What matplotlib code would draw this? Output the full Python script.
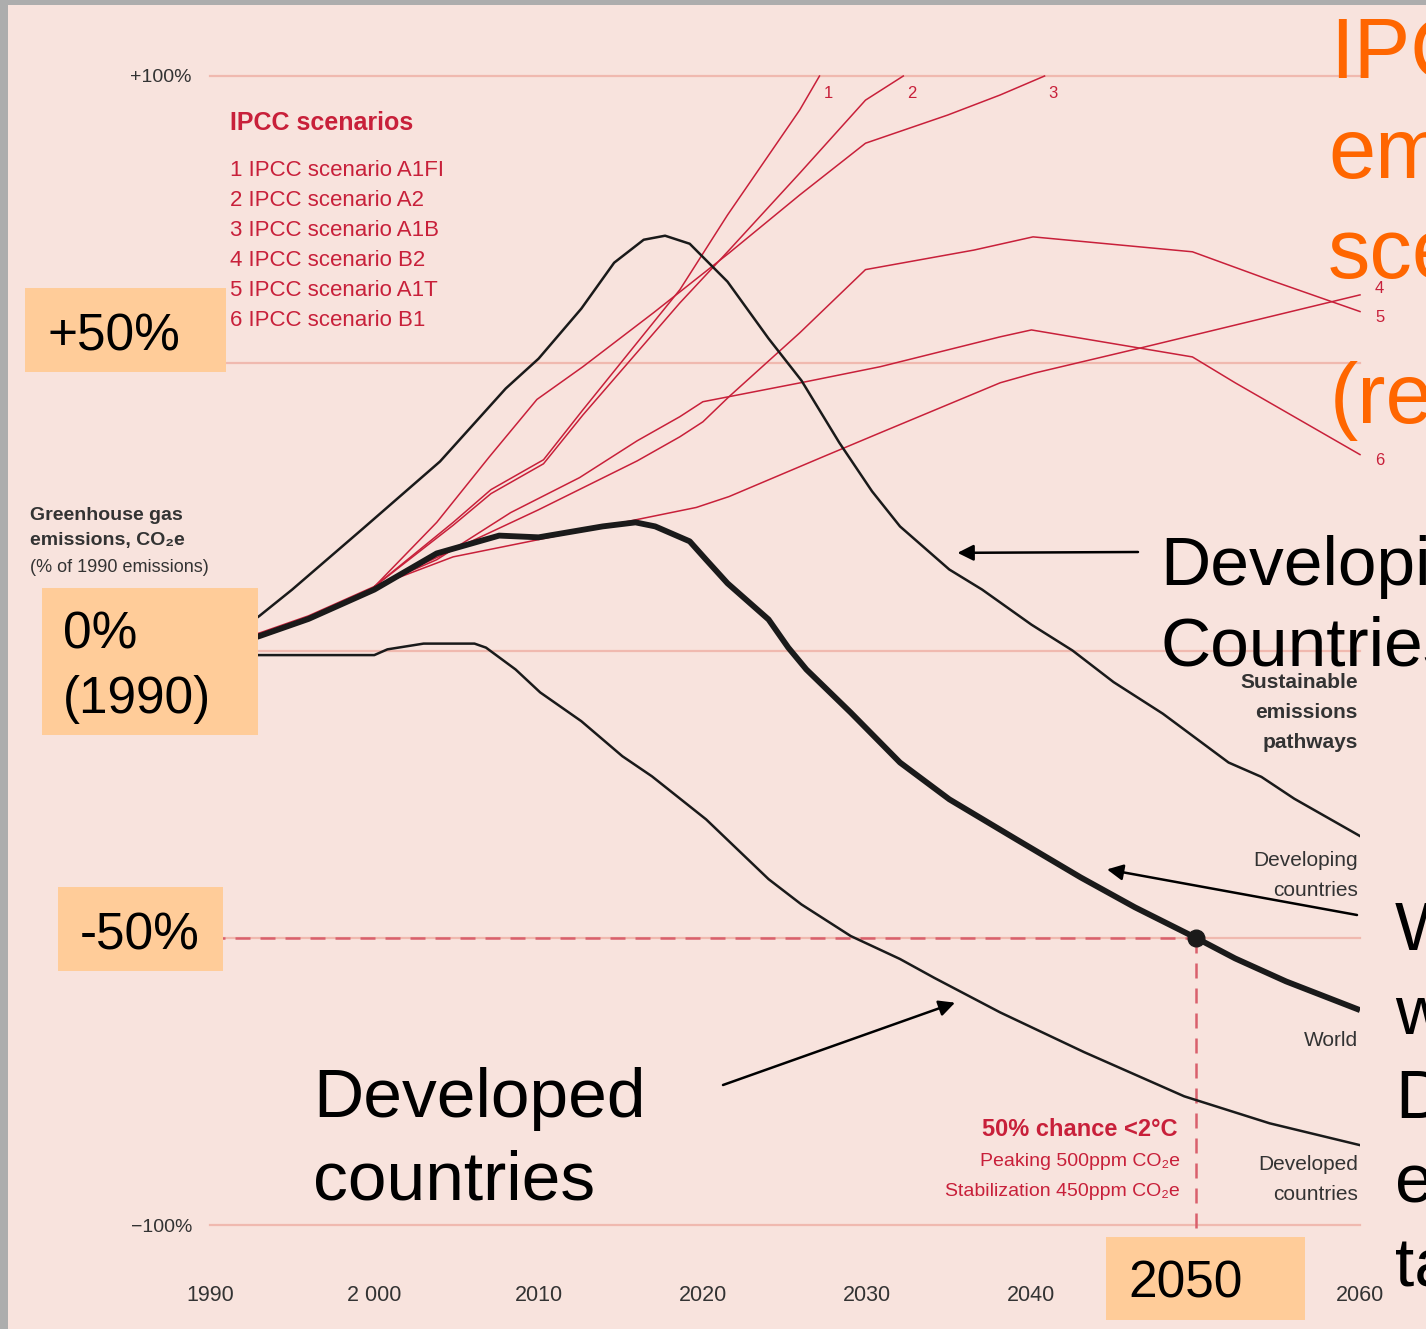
import matplotlib
matplotlib.use("Agg")
import matplotlib.pyplot as plt
from matplotlib.patches import Rectangle
from matplotlib import font_manager

# --- data (% change vs 1990) ---
developing_years = [1990, 1993, 1995, 1999.3, 2004, 2008, 2010, 2012.6, 2014.6, 2016.4, 2017.7,
                    2019.2, 2021.5, 2024, 2026, 2028.3, 2030.3, 2032, 2035, 2037, 2040, 2042.5,
                    2045, 2048, 2052, 2054, 2056, 2060]
developing = [0, 6, 10.6, 21.2, 32.9, 45.6, 50.8, 59.5, 67.5, 71.5, 72.2,
              70.8, 64.2, 54.3, 47.0, 36.2, 27.7, 21.6, 14.1, 10.6, 4.5, 0,
              -5.5, -11, -19.5, -22, -25.8, -32.3]

world_years = [1990, 1993, 1996, 2000, 2003.8, 2007.6, 2010, 2013.9, 2015.9, 2017.1, 2019.2,
               2020.2, 2021.5, 2024, 2025.2, 2026.3, 2029, 2032, 2035, 2039.1, 2043, 2046.3,
               2050, 2052.4, 2055.5, 2060]
world = [0, 2.5, 5.5, 10.6, 16.9, 20.0, 19.7, 21.6, 22.3, 21.6, 19.0,
         15.8, 11.7, 5.4, 0.5, -3.3, -10.8, -19.5, -25.9, -32.9, -39.5, -44.7,
         -50, -53.6, -57.6, -62.6]

developed_years = [1990, 2000, 2000.8, 2003, 2006.1, 2006.8, 2008.6, 2010.1, 2012.6, 2015.1,
                   2016.9, 2020.2, 2024, 2026, 2029, 2032, 2034.1, 2038.1, 2043.2, 2049.3,
                   2054.5, 2060]
developed = [-0.8, -0.8, 0.2, 1.2, 1.2, 0.5, -3.3, -7.3, -12.3, -18.4,
             -21.9, -29.4, -39.8, -44.2, -49.7, -53.7, -57.0, -63.0, -69.9, -77.6,
             -82.3, -86.1]

# shared IPCC history 1990-2000
ipcc_hist_years = [1990, 1993, 1996, 2000]
ipcc_hist = [0.4, 3.0, 6.0, 11.1]

a1fi_years = [2000, 2004.8, 2007.1, 2010.3, 2012.7, 2018.6, 2021.5, 2025.9, 2027.1]
a1fi = [11.1, 22.3, 28, 33.2, 41.9, 62.8, 75.8, 94.1, 100]
a2_years = [2000, 2004.8, 2007.1, 2010.3, 2012.7, 2018.6, 2021.6, 2025.9, 2029.9, 2032.2]
a2 = [11.1, 21.8, 27.3, 32.5, 41, 60.5, 69.7, 83.1, 95.8, 100]
a1b_years = [2000, 2003.8, 2007, 2009.9, 2012.7, 2017, 2021.6, 2025.9, 2029.9, 2034.9, 2038.1, 2040.8]
a1b = [11.1, 22.3, 33.7, 43.7, 49.4, 58.8, 69.2, 79.3, 88.3, 93.2, 96.7, 100]
b2_years = [2000, 2004.8, 2010, 2016, 2019.6, 2021.6, 2027.3, 2030.8, 2038.1, 2040.2, 2046.7, 2060]
b2 = [11.1, 16.3, 19.3, 22.8, 24.9, 26.8, 33.7, 37.9, 46.6, 48.3, 52.7, 61.9]
a1t_years = [2000, 2010, 2016, 2018.6, 2020, 2021.6, 2025.9, 2029.9, 2036.5, 2040.1, 2049.8, 2054.5, 2060]
a1t = [11.1, 24.5, 33, 37.2, 39.8, 44.2, 55.3, 66.3, 69.7, 72.0, 69.4, 64.5, 59.0]
b1_years = [2000, 2003.8, 2008.3, 2012.5, 2016, 2018.6, 2020, 2026.3, 2030.8, 2038.1, 2040, 2049.8, 2052.4, 2060]
b1 = [11.1, 15.8, 24, 30.1, 36.5, 40.7, 43.3, 46.8, 49.4, 54.6, 55.8, 51.1, 46.6, 34.1]

scenario_names = ["IPCC scenario A1FI", "IPCC scenario A2", "IPCC scenario A1B",
                  "IPCC scenario B2", "IPCC scenario A1T", "IPCC scenario B1"]

x_ticks = [1990, 2000, 2010, 2020, 2030, 2040, 2050, 2060]
# the 2050 tick label sits under the slide's "2050" box
x_tick_labels = ["1990", "2 000", "2010", "2020", "2030", "2040", "", "2060"]
grid_levels = [100, 50, 0, -50, -100]
target_year, target_level = 2050, -50

# --- style ---
W, H = 1426, 1329
BG = "#F8E3DD"
RED = "#C8203A"
GRID = "#F0B9AF"
BOX = "#FFCC99"
ORANGE = "#FF6600"
DARK = "#333333"

names = {f.name for f in font_manager.fontManager.ttflist}
NARROW = "Liberation Sans Narrow" if "Liberation Sans Narrow" in names else "Liberation Sans"
NARROW = [NARROW, "DejaVu Sans"]
SANS = ["Liberation Sans", "DejaVu Sans"]

fig = plt.figure(figsize=(W / 100, H / 100), dpi=100, facecolor=BG)
ax = fig.add_axes([210 / W, (H - 1225) / H, 1150 / W, 1149 / H])
ax.set_facecolor(BG)
ax.set_xlim(1990, 2060)
ax.set_ylim(-100, 100)
for s in ax.spines.values():
    s.set_visible(False)

ax.set_xticks(x_ticks)
ax.set_xticklabels(x_tick_labels, family=NARROW, fontsize=15.5, color=DARK)
ax.set_yticks(grid_levels)
ax.set_yticklabels(["+100%", "", "", "", "\u2212100%"], family=NARROW, fontsize=14, color=DARK)
ax.tick_params(axis="x", length=0, pad=43)
ax.tick_params(axis="y", length=0, pad=13)

for lv in grid_levels:
    ax.axhline(lv, color=GRID, lw=1.6, zorder=1, clip_on=False)

# 2050 target guides
ax.plot([1990, target_year], [target_level, target_level], color="#D9606C", lw=1.8,
        dashes=(6, 4), zorder=2)
ax.plot([target_year, target_year], [target_level, -104], color="#D9606C", lw=1.8,
        dashes=(6, 4), zorder=2, clip_on=False)

# IPCC scenarios
ax.plot(ipcc_hist_years, ipcc_hist, color=RED, lw=1.4, zorder=3)
scenarios = [(a1fi_years, a1fi), (a2_years, a2), (a1b_years, a1b),
             (b2_years, b2), (a1t_years, a1t), (b1_years, b1)]
for yrs, vals in scenarios:
    ax.plot(yrs, vals, color=RED, lw=1.1, zorder=3, clip_on=False)

# end labels of scenarios
for i, (yrs, vals) in enumerate(scenarios[:3]):
    ax.annotate(str(i + 1), (yrs[-1], vals[-1]), xytext=(4, -10), textcoords="offset pixels",
                ha="left", va="top", color=RED, fontsize=12, family=NARROW)
for i, (yrs, vals) in enumerate(scenarios[3:]):
    dy = [6, -6, -6][i]
    ax.annotate(str(i + 4), (yrs[-1], vals[-1]), xytext=(15, dy), textcoords="offset pixels",
                ha="left", va="center", color=RED, fontsize=12, family=NARROW)

# sustainable pathways
ax.plot(developing_years, developing, color="#1a1a1a", lw=1.8, zorder=4)
ax.plot(developed_years, developed, color="#1a1a1a", lw=1.8, zorder=4)
ax.plot(world_years, world, color="#1a1a1a", lw=4.2, zorder=4, solid_capstyle="butt")
ax.plot([target_year], [target_level], "o", color="#1a1a1a", ms=12, zorder=5)


def fxy(x, y):
    return x / W, 1 - y / H


def stack(lines, x, y0, dy, **kw):
    for i, s in enumerate(lines):
        fig.text(*fxy(x, y0 + i * dy), s, **kw)


# legend block
fig.text(*fxy(230, 123), "IPCC scenarios", color=RED, fontsize=18, fontweight="bold",
         family=NARROW, va="center")
stack([f"{i + 1} {n}" for i, n in enumerate(scenario_names)], 230, 170, 30,
      color=RED, fontsize=16, family=NARROW, va="center")

# axis caption
stack(["Greenhouse gas", "emissions, CO\u2082e"], 30, 516, 25, color=DARK, fontsize=14,
      fontweight="bold", family=NARROW, va="center")
fig.text(*fxy(30, 567), "(% of 1990 emissions)", color=DARK, fontsize=13, family=NARROW,
         va="center")

# right-hand line labels
stack(["Sustainable", "emissions", "pathways"], 1358, 682, 30.5, color=DARK, fontsize=15,
      fontweight="bold", family=NARROW, va="center", ha="right")
stack(["Developing", "countries"], 1358, 860, 30, color=DARK, fontsize=15,
      family=NARROW, va="center", ha="right")
fig.text(*fxy(1358, 1040), "World", color=DARK, fontsize=15, family=NARROW,
         va="center", ha="right")
stack(["Developed", "countries"], 1358, 1165, 30, color=DARK, fontsize=15,
      family=NARROW, va="center", ha="right")

# 2 degree note
fig.text(*fxy(1178, 1129), "50% chance <2\u00b0C", color=RED, fontsize=17,
         fontweight="bold", family=NARROW, va="center", ha="right")
stack(["Peaking 500ppm CO\u2082e", "Stabilization 450ppm CO\u2082e"], 1180, 1162, 30,
      color=RED, fontsize=14, family=NARROW, va="center", ha="right")

# slide overlay boxes
for (bx, by, bw, bh) in [(25, 288, 201, 84), (42, 588, 216, 147),
                         (58, 887, 165, 84), (1106, 1237, 199, 83)]:
    fig.add_artist(Rectangle(fxy(bx, by + bh), bw / W, bh / H, transform=fig.transFigure,
                             facecolor=BOX, edgecolor="none", zorder=2.5))
fig.text(*fxy(47, 350), "+50%", fontsize=37, family=SANS, va="baseline")
fig.text(*fxy(63, 648), "0%", fontsize=37, family=SANS, va="baseline")
fig.text(*fxy(63, 713), "(1990)", fontsize=37, family=SANS, va="baseline")
fig.text(*fxy(80, 950), "-50%", fontsize=37, family=SANS, va="baseline")
fig.text(*fxy(1128, 1297), "2050", fontsize=37, family=SANS, va="baseline")

# big slide annotations
fig.text(*fxy(313, 1117), "Developed", fontsize=50, family=SANS, va="baseline")
fig.text(*fxy(313, 1200), "countries", fontsize=50, family=SANS, va="baseline")
fig.text(*fxy(1160, 585), "Developing", fontsize=50, family=SANS, va="baseline")
fig.text(*fxy(1160, 665), "Countries", fontsize=50, family=SANS, va="baseline")
for i, s in enumerate(["World", "with", "Developed", "emissions", "target"]):
    fig.text(*fxy(1395, 950 + i * 84), s, fontsize=50, family=SANS, va="baseline")

fig.text(*fxy(1330, 78), "IPCC", fontsize=61, family=SANS, color=ORANGE, va="baseline")
fig.text(*fxy(1328, 178), "emissions", fontsize=61, family=SANS, color=ORANGE, va="baseline")
fig.text(*fxy(1328, 278), "scenarios", fontsize=61, family=SANS, color=ORANGE, va="baseline")
fig.text(*fxy(1330, 423), "(reference)", fontsize=61, family=SANS, color=ORANGE, va="baseline")

# arrows to the curves
arrow = dict(arrowstyle="-|>", color="black", lw=1.8, mutation_scale=24, shrinkA=0, shrinkB=0)
for tip, tail in [((2035.5, 17.0), (1138, 552)),
                  ((2044.6, -38.1), (1357, 915)),
                  ((2035.35, -61.3), (723, 1085))]:
    ax.annotate("", xy=tip, xycoords="data", xytext=(tail[0], H - tail[1]),
                textcoords="figure pixels", arrowprops=arrow, zorder=6)

# grey slide frame
fig.add_artist(Rectangle((0, 1 - 5 / H), 1, 5 / H, transform=fig.transFigure,
                         facecolor="#ADADAD", edgecolor="none", zorder=10))
fig.add_artist(Rectangle((0, 0), 8 / W, 1, transform=fig.transFigure,
                         facecolor="#ADADAD", edgecolor="none", zorder=10))

fig.savefig("out.png", dpi=100, facecolor=BG)
